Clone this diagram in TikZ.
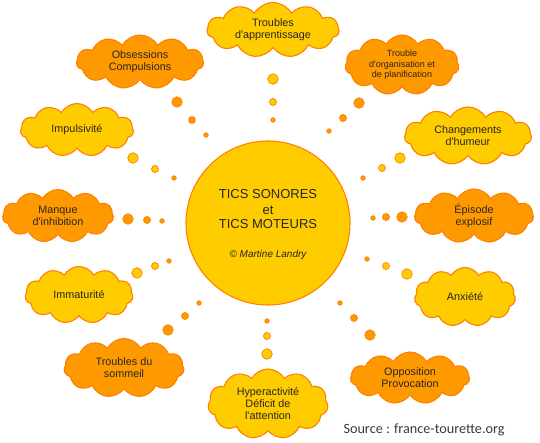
\documentclass[tikz,border=0pt]{standalone}
\usepackage{fontspec}
\setmainfont{Liberation Sans}
\newfontfamily\srcfont{Carlito}
\usetikzlibrary{shapes.symbols}
\definecolor{yel}{HTML}{FFCC00}
\definecolor{org}{HTML}{FF9900}
\definecolor{edgec}{HTML}{FF8000}
\definecolor{txt}{HTML}{262626}
\definecolor{srcc}{HTML}{3A3A3A}
\newcommand{\aq}{\textquotesingle}
\tikzset{
  cloudbase/.style={cloud, cloud puffs=11, cloud puff arc=120, cloud ignores aspect,
    draw=edgec, line width=1.1pt, inner sep=0pt, align=center, text=txt,
    font=\fontsize{10.8}{12}\selectfont},
  ycloud/.style={cloudbase, fill=yel},
  ocloud/.style={cloudbase, fill=org},
  dotbase/.style={circle, draw=edgec, line width=0.7pt, inner sep=0pt},
  bigdot/.style={dotbase, minimum size=10.5pt},
  middot/.style={dotbase, minimum size=7pt},
  smalldot/.style={dotbase, minimum size=4.5pt, fill=org},
  suntext/.style={anchor=base, text=txt, font=\fontsize{13}{15}\selectfont},
}
\begin{document}
\begin{tikzpicture}[x=1pt, y=-1pt]
\useasboundingbox (0,0) rectangle (540,443);

% centre
\node[circle, fill=yel, draw=edgec, line width=1.1pt, minimum size=164pt] (sun) at (268,223) {};
\node[suntext] (t1) at (268,199) {TICS SONORES};
\node[suntext] (t2) at (268,215) {et};
\node[suntext] (t3) at (268,229) {TICS MOTEURS};
\node[anchor=base, text=txt, font=\itshape\fontsize{10}{12}\selectfont] (cr) at (268,258) {\textcopyright{} Martine Landry};

% clouds
\node[ycloud, minimum width=132pt, minimum height=55pt] (c1) at (273,30) {Troubles\\d\aq apprentissage};
\node[ocloud, minimum width=127pt, minimum height=54pt] (c2) at (140,62) {Obsessions\\Compulsions};
\node[ocloud, minimum width=114pt, minimum height=60pt, font=\fontsize{9}{10.5}\selectfont] (c3) at (402,65) {Trouble\\d\aq organisation et\\de planification};
\node[ycloud, minimum width=113pt, minimum height=53pt] (c4) at (77,130) {Impulsivité};
\node[ycloud, minimum width=127pt, minimum height=58pt] (c5) at (468,136) {Changements\\d\aq humeur};
\node[ocloud, minimum width=111pt, minimum height=53pt] (c6) at (58,216) {Manque\\d\aq inhibition};
\node[ocloud, minimum width=119pt, minimum height=54pt] (c7) at (474,216) {Épisode\\explosif};
\node[ycloud, minimum width=108pt, minimum height=57pt] (c8) at (79,295) {Immaturité};
\node[ycloud, minimum width=101pt, minimum height=59pt] (c9) at (465,297) {Anxiété};
\node[ocloud, minimum width=120pt, minimum height=59pt] (c10) at (124,368) {Troubles du\\sommeil};
\node[ycloud, minimum width=120pt, minimum height=70pt] (c11) at (268,404) {Hyperactivité\\Déficit de\\l\aq attention};
\node[ocloud, minimum width=119pt, minimum height=52pt] (c12) at (410,378) {Opposition\\Provocation};

% thought dots
\foreach \c/\bx/\by/\mx/\my/\sx/\sy [count=\i] in {
  org/177/102/192/120/206/135,
  yel/273/79/273/102/273/120,
  org/359/103/343/118/329/131,
  yel/133/158/155/169/174/178,
  yel/400/158/382/168/363/178,
  org/128/219/147/220/162/221,
  org/402/217/386/217/373/218,
  yel/137/273/155/266/169/261,
  yel/407/274/386/266/367/259,
  org/168/330/185/316/199/303,
  yel/267/354/267/336/267/321,
  org/370/335/354/318/340/303}{
  \node[bigdot, fill=\c] (b\i) at (\bx,\by) {};
  \node[middot, fill=\c] (m\i) at (\mx,\my) {};
  \node[smalldot] (s\i) at (\sx,\sy) {};
}

\node[anchor=base west, text=srcc, font=\srcfont\fontsize{14.2}{16}\selectfont] (src) at (340,433) {Source : france-tourette.org};
\end{tikzpicture}
\end{document}
